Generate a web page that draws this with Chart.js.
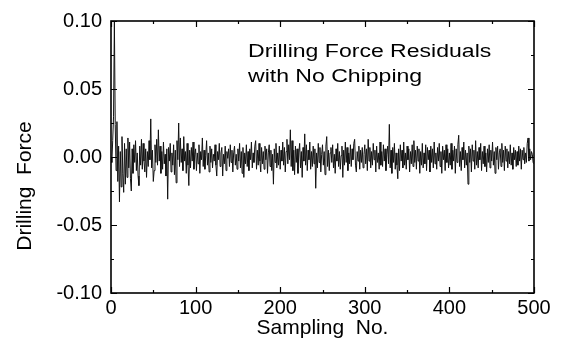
<!DOCTYPE html>
<html>
<head>
<meta charset="utf-8">
<script src="https://cdn.jsdelivr.net/npm/chart.js@4.4.1/dist/chart.umd.min.js"></script>
<style>
  html, body { margin: 0; padding: 0; background: #fff; }
  #grafico { display: block; }
</style>
</head>
<body>
<canvas id="grafico" width="561" height="349"></canvas>
<script>
// Resíduos da força de furação (amostra 0 a 500)
const residuos = [
  0.000, -0.004, 0.012, 0.030, 0.100, 0.024, -0.010, 0.026, -0.018, 0.008, -0.033, 0.004, -0.022, 0.015, -0.012, -0.026, 0.010, -0.020, 0.006, -0.015,
  0.014, -0.008, 0.011, -0.016, -0.025, 0.006, -0.012, 0.009, -0.004, 0.012, -0.010, 0.003, -0.014, -0.021, 0.008, -0.006, 0.013, -0.009, 0.010, -0.003,
  -0.011, 0.006, -0.015, 0.004, -0.007, 0.012, -0.002, 0.028, -0.008, 0.005, -0.018, -0.010, 0.009, -0.004, 0.013, -0.006, 0.020, -0.003, 0.008, -0.012,
  0.004, -0.009, 0.011, -0.005, 0.002, -0.014, 0.006, -0.031, 0.007, -0.003, 0.010, -0.011, 0.003, -0.006, 0.009, -0.013, 0.005, -0.019, 0.012, -0.002,
  0.025, -0.007, 0.014, -0.004, 0.006, -0.010, 0.015, -0.003, 0.004, -0.012, 0.010, -0.006, -0.021, 0.005, -0.008, 0.007, -0.003, 0.011, -0.009, 0.002,
  0.006, -0.010, 0.003, -0.005, 0.009, -0.012, 0.004, -0.002, 0.014, -0.007, 0.005, -0.009, 0.001, 0.012, -0.006, 0.003, -0.011, 0.008, -0.004, 0.006,
  -0.008, 0.002, -0.003, 0.009, -0.006, -0.014, 0.004, -0.002, 0.010, -0.007, 0.003, 0.007, -0.014, 0.002, -0.005, 0.008, -0.010, 0.004, -0.001, 0.006,
  -0.007, 0.009, -0.004, 0.005, -0.011, 0.003, 0.008, -0.006, 0.002, -0.009, 0.006, -0.003, 0.010, -0.008, 0.004, -0.012, 0.007, -0.015, 0.003, -0.005,
  0.009, -0.007, 0.004, -0.010, 0.006, -0.002, 0.011, -0.008, 0.003, -0.004, 0.008, 0.012, -0.009, 0.005, -0.006, 0.010, -0.003, -0.011, 0.007, -0.005,
  0.004, -0.009, 0.008, -0.002, 0.006, -0.012, 0.003, 0.009, -0.007, 0.005, -0.010, 0.002, -0.020, 0.006, -0.004, 0.010, -0.008, 0.003, -0.006, 0.008,
  -0.009, 0.005, -0.003, 0.011, -0.006, 0.007, -0.011, 0.004, 0.013, -0.005, 0.009, -0.002, 0.020, -0.007, 0.012, -0.010, 0.005, -0.013, 0.008, -0.004,
  0.006, -0.012, 0.003, 0.010, -0.008, 0.004, -0.015, 0.007, -0.003, 0.017, -0.006, 0.009, -0.010, 0.005, -0.002, 0.011, -0.009, 0.004, -0.007, 0.008,
  -0.005, 0.006, -0.023, 0.003, -0.008, 0.010, -0.004, 0.007, -0.011, 0.002, 0.009, -0.006, 0.004, -0.013, 0.008, 0.015, -0.007, 0.005, -0.010, 0.003,
  0.007, -0.004, 0.009, -0.008, 0.002, -0.012, 0.006, -0.003, 0.010, -0.007, 0.004, -0.009, 0.001, 0.008, -0.015, 0.005, -0.006, 0.011, -0.004, 0.007,
  -0.010, 0.003, -0.005, 0.009, -0.007, 0.006, -0.002, 0.010, 0.013, -0.006, -0.011, 0.004, -0.003, 0.008, -0.009, 0.005, -0.004, 0.007, -0.008, 0.002,
  0.009, -0.005, 0.006, -0.010, 0.013, -0.003, 0.007, -0.008, 0.004, -0.006, 0.010, -0.002, 0.005, -0.011, 0.008, -0.004, 0.003, -0.009, 0.011, -0.006,
  0.004, -0.007, 0.009, -0.003, 0.006, -0.010, 0.002, 0.008, -0.005, 0.024, -0.008, 0.005, -0.012, 0.007, -0.004, 0.010, -0.009, 0.003, -0.006, -0.016,
  0.006, -0.010, 0.009, -0.003, 0.005, -0.008, 0.011, -0.006, 0.003, -0.009, 0.008, -0.002, 0.006, -0.011, 0.004, -0.005, 0.009, -0.007, 0.012, -0.004,
  0.005, -0.009, 0.008, -0.003, 0.006, -0.012, 0.004, -0.006, 0.010, -0.008, 0.003, -0.005, 0.009, -0.010, 0.007, -0.002, 0.005, -0.011, 0.008, -0.004,
  0.006, -0.008, 0.011, -0.005, 0.003, -0.009, 0.007, -0.003, 0.010, -0.007, 0.004, -0.012, 0.008, -0.002, 0.005, -0.010, 0.009, -0.004, 0.006, -0.008,
  0.003, -0.006, 0.010, -0.009, 0.005, -0.003, 0.008, -0.012, 0.006, -0.004, 0.009, 0.016, -0.007, 0.004, -0.010, 0.007, -0.002, 0.011, -0.008, 0.005,
  -0.006, 0.003, -0.020, 0.008, -0.004, 0.006, -0.011, 0.009, -0.003, 0.005, -0.009, 0.012, -0.006, 0.004, -0.008, 0.007, -0.002, 0.010, -0.010, 0.004,
  -0.005, 0.008, -0.007, 0.003, -0.011, 0.006, -0.004, 0.009, -0.008, 0.005, -0.003, 0.011, -0.006, 0.004, -0.012, 0.007, -0.002, 0.008, -0.009, 0.003,
  0.006, -0.007, 0.010, -0.004, 0.005, -0.010, 0.008, -0.003, 0.006, -0.008, 0.004, -0.005, 0.009, -0.006, 0.003, -0.009, 0.007, -0.002, 0.005, -0.007,
  0.004, -0.006, 0.008, -0.003, 0.006, -0.009, 0.005, -0.002, 0.007, -0.005, 0.003, -0.004, 0.010, 0.014, -0.003, 0.006, -0.002, 0.004, 0.002, -0.004,
  -0.005
];

// Marcas dos eixos
const marcasX = [0, 100, 200, 300, 400, 500];
const marcasXMenores = [50, 150, 250, 350, 450];
const marcasY = [-0.10, -0.05, 0.00, 0.05, 0.10];
const marcasYMenores = [-0.075, -0.025, 0.025, 0.075];

const anotacao = ["Drilling Force Residuals", "with No Chipping"];
const tituloY = "Drilling  Force";

const fonte = "Liberation Sans, Arial, Helvetica, sans-serif";

// Plugin: marcas internas nos quatro lados, título do eixo Y e anotação
const marcasInternas = {
    id: "marcasInternas",
    afterDraw(chart) {
        const ctx = chart.ctx;
        const area = chart.chartArea;
        const sx = chart.scales.x;
        const sy = chart.scales.y;

        ctx.save();
        ctx.strokeStyle = "#000";
        ctx.lineWidth = 1.2;
        ctx.beginPath();
        const ladoX = (valores, tam) => {
            valores.forEach(v => {
                const px = Math.round(sx.getPixelForValue(v)) + 0.5;
                ctx.moveTo(px, area.bottom); ctx.lineTo(px, area.bottom - tam);
                ctx.moveTo(px, area.top); ctx.lineTo(px, area.top + tam);
            });
        };
        const ladoY = (valores, tam) => {
            valores.forEach(v => {
                const py = Math.round(sy.getPixelForValue(v)) + 0.5;
                ctx.moveTo(area.left, py); ctx.lineTo(area.left + tam, py);
                ctx.moveTo(area.right, py); ctx.lineTo(area.right - tam, py);
            });
        };
        ladoX(marcasX, 6);
        ladoX(marcasXMenores, 3);
        ladoY(marcasY, 6);
        ladoY(marcasYMenores, 3);
        ctx.stroke();

        // moldura
        ctx.lineWidth = 1.6;
        ctx.strokeRect(area.left, area.top, area.right - area.left, area.bottom - area.top);

        ctx.fillStyle = "#000";

        // título do eixo Y (fica abaixo do centro no original)
        ctx.save();
        ctx.font = "21px " + fonte;
        ctx.textAlign = "center";
        ctx.textBaseline = "middle";
        ctx.translate(25, 186);
        ctx.rotate(-Math.PI / 2);
        ctx.fillText(tituloY, 0, 0);
        ctx.restore();

        // anotação (texto um pouco esticado na horizontal, como no original)
        ctx.font = "18px " + fonte;
        ctx.textBaseline = "alphabetic";
        ctx.textAlign = "left";
        ctx.translate(248, 0);
        ctx.scale(1.28, 1);
        ctx.fillText(anotacao[0], 0, 57);
        ctx.fillText(anotacao[1], 0, 82);
        ctx.restore();
    }
};

const ctx = document.getElementById("grafico").getContext("2d");
new Chart(ctx, {
    type: "line",
    data: {
        datasets: [{
            label: "Drilling Force",
            data: residuos.map((v, i) => ({ x: i, y: v })),
            borderColor: "#111",
            borderWidth: 1,
            pointRadius: 0,
            tension: 0,
            fill: false
        }]
    },
    options: {
        responsive: false,
        animation: false,
        devicePixelRatio: 1,
        layout: { padding: { left: 0, right: 27, top: 19, bottom: 0 } },
        plugins: {
            legend: { display: false },
            title: { display: false },
            tooltip: { enabled: false }
        },
        scales: {
            x: {
                type: "linear",
                min: 0,
                max: 500,
                afterBuildTicks: s => { s.ticks = marcasX.map(v => ({ value: v })); },
                afterFit: s => { s.height = 56; },
                grid: { display: false, drawTicks: false },
                border: { display: false },
                ticks: {
                    color: "#000",
                    font: { family: fonte, size: 20 },
                    padding: 3,
                    maxRotation: 0,
                    callback: v => String(v)
                },
                title: {
                    display: true,
                    text: "Sampling  No.",
                    color: "#000",
                    font: { family: fonte, size: 21 },
                    padding: { top: 0, bottom: 8 }
                }
            },
            y: {
                min: -0.1,
                max: 0.1,
                afterBuildTicks: s => { s.ticks = marcasY.map(v => ({ value: v })); },
                afterFit: s => { s.width = 111; },
                grid: { display: false, drawTicks: false },
                border: { display: false },
                ticks: {
                    color: "#000",
                    font: { family: fonte, size: 20 },
                    padding: 9,
                    callback: v => (Math.abs(v) < 1e-9 ? 0 : v).toFixed(2)
                },
                title: { display: false }
            }
        }
    },
    plugins: [marcasInternas]
});
</script>
</body>
</html>
